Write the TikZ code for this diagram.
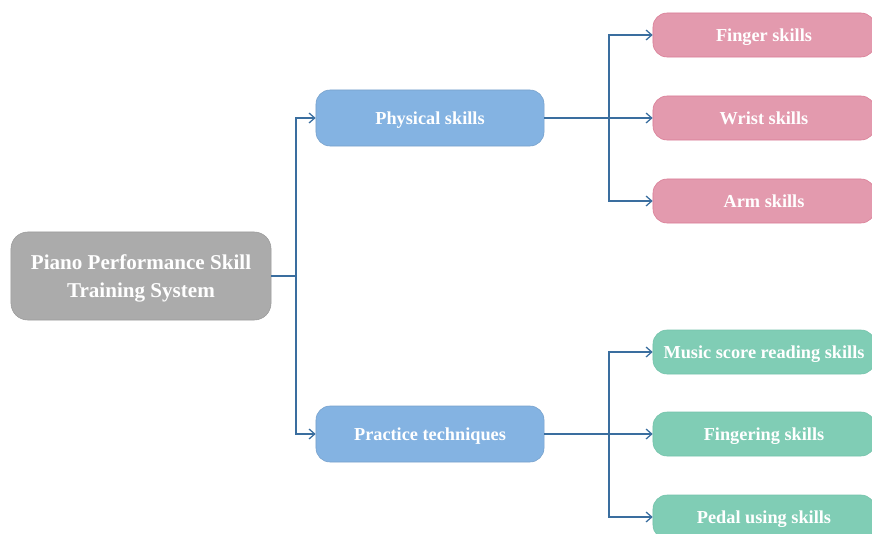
\documentclass[tikz,border=0pt]{standalone}
\usepackage{fontspec}
\setmainfont{Liberation Serif}
\usepackage{tikz}
\usetikzlibrary{arrows.meta}
\definecolor{rootgray}{HTML}{ABABAB}
\definecolor{midblue}{HTML}{84B3E2}
\definecolor{leafpink}{HTML}{E39AAE}
\definecolor{pinkline}{HTML}{D97C95}
\definecolor{leafgreen}{HTML}{80CDB5}
\definecolor{greenline}{HTML}{74C2AA}
\definecolor{linkblue}{HTML}{3A6E9F}
\tikzset{
	box/.style={rounded corners=10pt, text=white, font=\bfseries\fontsize{13}{15}\selectfont, align=center, text depth=0pt},
	rootbox/.style={box, fill=rootgray, draw=rootgray!90!black, minimum width=6.5cm, minimum height=2.2cm, rounded corners=12pt, font=\bfseries\fontsize{15}{20}\selectfont},
	midbox/.style={box, fill=midblue, draw=midblue!90!black, minimum width=5.7cm, minimum height=1.4cm},
	pinkbox/.style={box, fill=leafpink, draw=pinkline, minimum width=5.55cm, minimum height=1.1cm},
	greenbox/.style={box, fill=leafgreen, draw=greenline, minimum width=5.55cm, minimum height=1.1cm},
	link/.style={draw=linkblue, line width=.9pt, -{Straight Barb[length=4pt,width=7pt]}}
}
\begin{document}
\begin{tikzpicture}[x=0.025cm, y=-0.025cm]
	\useasboundingbox (0,0) rectangle (872,533);
	\clip (0,0) rectangle (872,533);
	\node[rootbox] (root) at (141,276) {Piano Performance Skill\\Training System};
	\node[midbox] (phys) at (430,118) {Physical skills};
	\node[midbox] (prac) at (430,434) {Practice techniques};
	\node[pinkbox] (finger) at (764,35) {Finger skills};
	\node[pinkbox] (wrist) at (764,118) {Wrist skills};
	\node[pinkbox] (arm) at (764,201) {Arm skills};
	\node[greenbox] (score) at (764,352) {Music score reading skills};
	\node[greenbox] (fingering) at (764,434) {Fingering skills};
	\node[greenbox] (pedal) at (764,517) {Pedal using skills};
	\coordinate (b0) at (296,276);
	\coordinate (b1) at (609,118);
	\coordinate (b2) at (609,434);
	\draw[link] (root.east) -- (b0) |- (phys.west);
	\draw[link] (b0) |- (prac.west);
	\draw[link] (phys.east) -- (wrist.west);
	\draw[link] (b1) |- (finger.west);
	\draw[link] (b1) |- (arm.west);
	\draw[link] (prac.east) -- (fingering.west);
	\draw[link] (b2) |- (score.west);
	\draw[link] (b2) |- (pedal.west);
\end{tikzpicture}
\end{document}
